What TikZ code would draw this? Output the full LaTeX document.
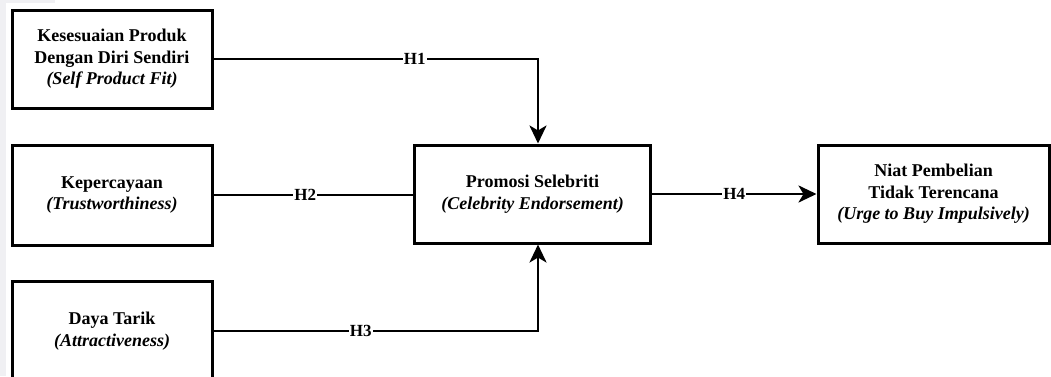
\documentclass[tikz,border=0pt]{standalone}
\usepackage{fontspec}
\setmainfont{Liberation Serif}
\usetikzlibrary{arrows.meta}
\definecolor{strip}{RGB}{240,240,243}
\begin{document}
\begin{tikzpicture}[x=1pt, y=-1pt, >={Stealth[length=18pt,width=17pt,inset=5pt]},
	var/.style={draw, line width=3pt, inner sep=0pt, align=center,
		font=\fontsize{18}{21.5}\selectfont\bfseries},
	hyp/.style={fill=white, inner sep=1pt, font=\fontsize{17}{17}\selectfont\bfseries},
	link/.style={line width=2.8pt}]
	% Рамка рисунка
	\useasboundingbox (0,0) rectangle (1051,376);
	\fill[strip] (0,0) rectangle (6,376);
	\fill[strip] (0,0) rectangle (55,3);
	
	% Переменные
	\node[var, minimum width=200pt, minimum height=98pt] (fit) at (112,59)
	{Kesesuaian Produk\\Dengan Diri Sendiri\\{\itshape (Self Product Fit)}};
	\node[var, minimum width=200pt, minimum height=100pt] (trust) at (112,195)
	{Kepercayaan\\{\itshape (Trustworthiness)}};
	\node[var, minimum width=200pt, minimum height=100pt] (attr) at (112,331)
	{Daya Tarik\\{\itshape (Attractiveness)}};
	\node[var, minimum width=236pt, minimum height=98pt] (celeb) at (532.5,194)
	{Promosi Selebriti\\{\itshape (Celebrity Endorsement)}};
	\node[var, minimum width=231pt, minimum height=98pt] (urge) at (933.5,194)
	{Niat Pembelian\\Tidak Terencana\\{\itshape (Urge to Buy Impulsively)}};
	
	% Гипотезы
	\draw[link, ->] (fit.east) -| ([xshift=5.5pt]celeb.north)
	node[hyp, pos=0.31] {H1};
	\draw[link] (trust.east) -- (trust.east -| celeb.west)
	node[hyp, pos=0.46] {H2};
	\draw[link, ->] (attr.east) -| ([xshift=5.5pt]celeb.south)
	node[hyp, pos=0.227] {H3};
	\draw[link, ->] (celeb.east) -- (urge.west)
	node[hyp, midway] {H4};
	
\end{tikzpicture}
\end{document}
